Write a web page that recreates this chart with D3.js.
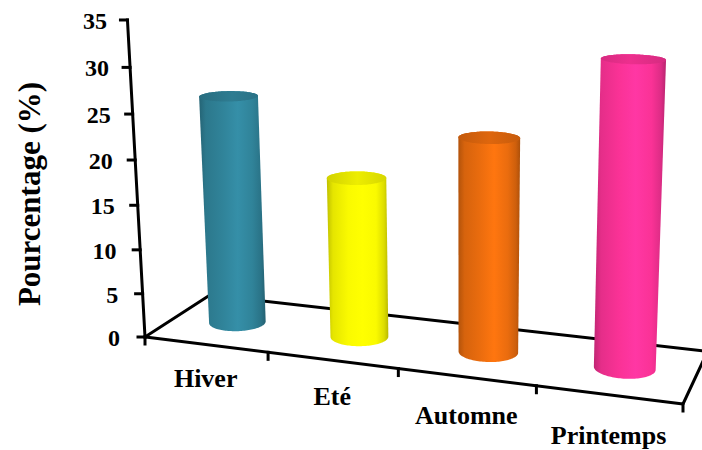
<!DOCTYPE html>
<html>
<head>
<meta charset="utf-8">
<script src="https://cdn.jsdelivr.net/npm/d3@7"></script>
<style>
  html, body { margin: 0; padding: 0; background: #ffffff; }
  svg { display: block; }
  text { font-family: "Liberation Serif", "Times New Roman", serif; font-weight: bold; fill: #000; }
</style>
</head>
<body>
<svg id="chart" width="702" height="450"></svg>
<script>
// Seasonal distribution (percent)
const categories = ["Hiver", "Eté", "Automne", "Printemps"];
const values = [26.0, 18.0, 23.5, 32.5];
const colors = ["#31859C", "#FFFF00", "#EE6E0E", "#FF3399"];
const yTicks = [0, 5, 10, 15, 20, 25, 30, 35];
const yTitle = "Pourcentage (%)";

// ---- perspective set-up for the 3D floor ----
// floor corners on screen: front-left, front-right, back-left; gU/hV are the
// perspective terms along the category and depth directions
const P0 = [145, 337], P1 = [683, 404], P3 = [210, 295];
const gU = -0.11, hV = 0.0866;
// vanishing point of vertical lines (far below the chart)
const VP = [464, 6100];
const H = {
  a: P1[0] * (1 + gU) - P0[0], b: P3[0] * (1 + hV) - P0[0], c: P0[0],
  d: P1[1] * (1 + gU) - P0[1], e: P3[1] * (1 + hV) - P0[1], f: P0[1]
};
// u: category position 0..1, v: depth 0..1, m: height weight from the value scale
function project(u, v, m) {
  const X = H.a * u + H.b * v + H.c + m * VP[0];
  const Y = H.d * u + H.e * v + H.f + m * VP[1];
  const W = gU * u + hV * v + 1 + m;
  return [X / W, Y / W];
}

const svg = d3.select("#chart");
const defs = svg.append("defs");

const x = d3.scaleBand().domain(categories).range([0, 1]);
const y = d3.scaleLinear().domain([0, 35]).range([0, -0.05214]);
const depthMid = 0.5;
const ru = 0.054, rv = 0.196;   // cylinder radius in floor units
const line = d3.line();

const axisStyle = g => g.attr("fill", "none").attr("stroke", "#000")
  .attr("stroke-width", 3).attr("stroke-linejoin", "round").attr("stroke-linecap", "square");

// left and back floor edges, drawn behind the cylinders
svg.append("path").call(axisStyle)
  .attr("d", line([project(0, 0, 0), project(0, 1, 0), project(1, 1, 0)]));

// ---- cylinders ----
const N = 120;
categories.forEach((c, i) => {
  const uc = x(c) + x.bandwidth() / 2;
  const mTop = y(values[i]);
  const ring = m => d3.range(N).map(k => {
    const t = 2 * Math.PI * k / N;
    return project(uc + ru * Math.cos(t), depthMid + rv * Math.sin(t), m);
  });
  const base = ring(0), cap = ring(mTop);
  const hull = d3.polygonHull(base.concat(cap));
  const xs = hull.map(p => p[0]);
  const x0 = d3.min(xs), x1 = d3.max(xs);
  const col = d3.color(colors[i]);

  const gid = "body" + i;
  const grad = defs.append("linearGradient").attr("id", gid)
    .attr("gradientUnits", "userSpaceOnUse")
    .attr("x1", x0).attr("x2", x1).attr("y1", 0).attr("y2", 0);
  [[0, col.darker(0.8)], [0.1, col.darker(0.3)], [0.35, col.darker(0.05)],
   [0.58, col.brighter(0.2)], [0.8, col.darker(0.05)], [0.93, col.darker(0.4)], [1, col.darker(0.9)]]
    .forEach(([o, cc]) => grad.append("stop").attr("offset", o).attr("stop-color", cc.formatHex()));

  svg.append("path").attr("d", "M" + hull.join("L") + "Z").attr("fill", `url(#${gid})`);

  const cid = "cap" + i;
  const cg = defs.append("linearGradient").attr("id", cid)
    .attr("gradientUnits", "userSpaceOnUse")
    .attr("x1", x0).attr("x2", x1).attr("y1", 0).attr("y2", 0);
  [[0, col.darker(0.55)], [0.5, col.darker(0.2)], [1, col.darker(0.5)]]
    .forEach(([o, cc]) => cg.append("stop").attr("offset", o).attr("stop-color", cc.formatHex()));
  svg.append("path").attr("d", "M" + cap.join("L") + "Z").attr("fill", `url(#${cid})`);
});

// front and right floor edges
svg.append("path").call(axisStyle)
  .attr("d", line([project(1, 1, 0), project(1, 0, 0), project(0, 0, 0)]));

// category tick marks on the front edge
const catTicks = categories.map(c => x(c)).concat([1]);
svg.append("g").call(axisStyle).selectAll("path").data(catTicks).join("path")
  .attr("d", u => { const p = project(u, 0, 0); return line([p, [p[0], p[1] + 7]]); });

// category labels
svg.append("g").selectAll("text").data(categories).join("text")
  .attr("text-anchor", "middle")
  .attr("font-size", 26)
  .attr("x", c => project(x(c) + x.bandwidth() / 2, 0, 0)[0])
  .attr("y", c => { const u = x(c) + x.bandwidth() / 2; return project(u, 0, 0)[1] + 41 + 9 * u; })
  .text(c => c);

// value axis at the front-left corner
svg.append("path").call(axisStyle)
  .attr("d", line([project(0, 0, y(0)), project(0, 0, y(35))]));
svg.append("g").call(axisStyle).selectAll("path").data(yTicks).join("path")
  .attr("d", t => { const p = project(0, 0, y(t)); return line([[p[0] - 7, p[1]], p]); });
svg.append("g").selectAll("text").data(yTicks).join("text")
  .attr("text-anchor", "end")
  .attr("dominant-baseline", "central")
  .attr("font-size", 24)
  .attr("x", t => project(0, 0, y(t))[0] - (25 - 4.5 * t / 35))
  .attr("y", t => project(0, 0, y(t))[1] + 1)
  .text(t => t);

// axis title
svg.append("text")
  .attr("transform", "translate(29,194) rotate(-90)")
  .attr("text-anchor", "middle")
  .attr("dominant-baseline", "central")
  .attr("font-size", 31)
  .text(yTitle);
</script>
</body>
</html>
